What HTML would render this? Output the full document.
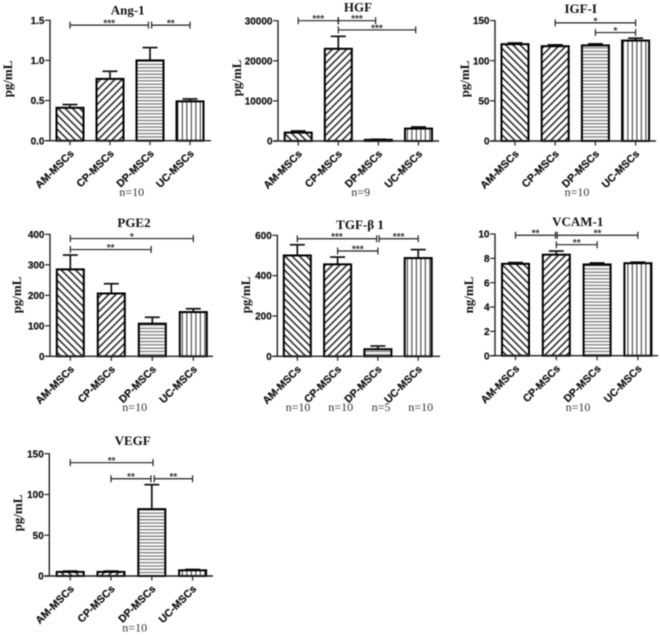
<!DOCTYPE html>
<html>
<head>
<meta charset="utf-8">
<title>MSC secreted factors</title>
<style>
html,body{margin:0;padding:0;background:#fff;width:660px;height:635px;overflow:hidden}
svg{display:block;filter:blur(0.4px)}
.tick{font:bold 10px "Liberation Sans",sans-serif;fill:#111;stroke:#111;stroke-width:.2;text-anchor:end}
.cat{font:bold 10.6px "Liberation Sans",sans-serif;fill:#111;stroke:#111;stroke-width:.2;text-anchor:end}
.title{font:bold 13px "Liberation Serif",serif;fill:#111;text-anchor:middle}
.ytitle{font:bold 13px "Liberation Serif",serif;fill:#111;text-anchor:middle}
.n{font:12px "Liberation Serif",serif;fill:#333;text-anchor:middle}
.star{font:bold 10px "Liberation Sans",sans-serif;fill:#333;text-anchor:middle}
</style>
</head>
<body>
<svg id="figure" width="660" height="635" viewBox="0 0 660 635" xmlns="http://www.w3.org/2000/svg">
<defs>
<pattern id="hatch-am" patternUnits="userSpaceOnUse" width="7.2" height="7.2"><path d="M-1,-1 L8.2,8.2 M-1,6.2 L1,8.2 M6.2,-1 L8.2,1" stroke="#111" stroke-width="1.4" fill="none"/></pattern>
<pattern id="hatch-cp" patternUnits="userSpaceOnUse" width="7.2" height="7.2"><path d="M-1,8.2 L8.2,-1 M-1,1 L1,-1 M6.2,8.2 L8.2,6.2" stroke="#111" stroke-width="1.4" fill="none"/></pattern>
<pattern id="hatch-dp" patternUnits="userSpaceOnUse" width="4" height="3.3"><rect x="0" y="1.1" width="4" height="1.1" fill="#666"/></pattern>
<pattern id="hatch-uc" patternUnits="userSpaceOnUse" width="4.5" height="4"><rect x="1.8" y="0" width="1.1" height="4" fill="#444"/></pattern>
</defs>
</svg>
<script>
var categories = ['AM-MSCs', 'CP-MSCs', 'DP-MSCs', 'UC-MSCs'];

var angMeans = [0.41, 0.77, 1.0, 0.49];
var angErrors = [0.04, 0.095, 0.16, 0.03];
var angTicks = [0, 0.5, 1.0, 1.5];
var angTickLabels = ['0.0', '0.5', '1.0', '1.5'];
var angBrackets = [[0, 1.96, 1.44, '***'], [2.04, 3, 1.44, '**']];

var hgfMeans = [2100, 23000, 300, 3100];
var hgfErrors = [400, 3100, 120, 400];
var hgfTicks = [0, 10000, 20000, 30000];
var hgfTickLabels = ['0', '10000', '20000', '30000'];
var hgfBrackets = [[0, 1, 30000, '***'], [1, 1.93, 30000, '***'], [1, 2.93, 27700, '***']];

var igfMeans = [120.5, 118, 119, 125];
var igfErrors = [1.5, 1.7, 1.9, 3];
var igfTicks = [0, 50, 100, 150];
var igfTickLabels = ['0', '50', '100', '150'];
var igfBrackets = [[1, 3, 147, '*'], [2, 3, 135, '*']];

var pgeMeans = [285, 206, 107, 145];
var pgeErrors = [47, 32, 21, 11];
var pgeTicks = [0, 100, 200, 300, 400];
var pgeTickLabels = ['0', '100', '200', '300', '400'];
var pgeBrackets = [[0, 3, 386, '*'], [0, 1.97, 350, '**']];

var tgfMeans = [500, 456, 35, 487];
var tgfErrors = [53, 36, 16, 42];
var tgfTicks = [0, 200, 400, 600];
var tgfTickLabels = ['0', '200', '400', '600'];
var tgfBrackets = [[0, 1.97, 583, '***'], [2.03, 3, 583, '***'], [1, 2, 522, '***']];

var vcamMeans = [7.55, 8.3, 7.5, 7.6];
var vcamErrors = [0.1, 0.3, 0.12, 0.08];
var vcamTicks = [0, 2, 4, 6, 8, 10];
var vcamTickLabels = ['0', '2', '4', '6', '8', '10'];
var vcamBrackets = [[0, 0.98, 9.9, '**'], [1.02, 3, 9.9, '**'], [1, 2, 9.12, '**']];

var vegfMeans = [5, 5, 82, 7];
var vegfErrors = [1, 1, 30, 1];
var vegfTicks = [0, 50, 100, 150];
var vegfTickLabels = ['0', '50', '100', '150'];
var vegfBrackets = [[0, 2.03, 139, '**'], [1, 1.98, 119.3, '**'], [2.06, 3, 119.3, '**']];

var hatchFills = ['url(#hatch-am)', 'url(#hatch-cp)', 'url(#hatch-dp)', 'url(#hatch-uc)'];

var panels = [
  {title:'Ang-1', unit:'pg/mL', means:angMeans, errors:angErrors, ticks:angTicks, labels:angTickLabels, brackets:angBrackets,
   left:50, bottom:140.7, top:20.3, first:70, step:40, right:211, tx:127.7, ty:14.5, ux:12, uy:79, notes:[['n=10',131.7,196]]},
  {title:'HGF', unit:'pg/mL', means:hgfMeans, errors:hgfErrors, ticks:hgfTicks, labels:hgfTickLabels, brackets:hgfBrackets,
   left:278, bottom:141, top:20.7, first:298.2, step:40.1, right:439, tx:358, ty:11.5, ux:241, uy:78, notes:[['n=9',360.7,196]]},
  {title:'IGF-I', unit:'pg/mL', means:igfMeans, errors:igfErrors, ticks:igfTicks, labels:igfTickLabels, brackets:igfBrackets,
   left:495, bottom:141, top:20.5, first:515, step:40.2, right:656, tx:580.7, ty:13, ux:469, uy:79, notes:[['n=10',577,196]]},
  {title:'PGE2', unit:'pg/mL', means:pgeMeans, errors:pgeErrors, ticks:pgeTicks, labels:pgeTickLabels, brackets:pgeBrackets,
   left:50, bottom:356.3, top:234.3, first:70.3, step:41, right:213, tx:134, ty:227, ux:21, uy:295, notes:[['n=10',134.7,411]]},
  {title:'TGF-\u03b2 1', unit:'pg/mL', means:tgfMeans, errors:tgfErrors, ticks:tgfTicks, labels:tgfTickLabels, brackets:tgfBrackets,
   left:277.3, bottom:356.3, top:235.3, first:297.3, step:40.3, right:440, tx:360, ty:229, ux:250, uy:295,
   notes:[['n=10',298,411],['n=10',340.7,411],['n=5',381,411],['n=10',420.7,411]]},
  {title:'VCAM-1', unit:'ng/mL', means:vcamMeans, errors:vcamErrors, ticks:vcamTicks, labels:vcamTickLabels, brackets:vcamBrackets,
   left:495, bottom:355.7, top:234, first:515.5, step:40.8, right:658, tx:577.7, ty:226, ux:473, uy:295, notes:[['n=10',578,411]]},
  {title:'VEGF', unit:'pg/mL', means:vegfMeans, errors:vegfErrors, ticks:vegfTicks, labels:vegfTickLabels, brackets:vegfBrackets,
   left:49.3, bottom:576, top:453.7, first:70.2, step:40.8, right:213, tx:132.7, ty:445, ux:22, uy:513, notes:[['n=10',134.7,631.7]]}
];

var NS = 'http://www.w3.org/2000/svg';
var figure = document.getElementById('figure');

function make(parent, tag, attrs, text) {
  var el = document.createElementNS(NS, tag);
  for (var key in attrs) {
    el.setAttribute(key, attrs[key]);
  }
  if (text !== undefined) {
    el.textContent = text;
  }
  
  parent.appendChild(el);
  return el;
}

function drawPanel(p) {
  var g = make(figure, 'g', {});
  

  var yMax = p.ticks[p.ticks.length - 1];
  function yScale(v) { return p.bottom - (v / yMax) * (p.bottom - p.top); }
  function xScale(c) { return p.first + c * p.step; }
  var barWidth = 27;

  var title = make(g, 'text', {'class':'title', x:p.tx, y:p.ty}, p.title);
  

  var unit = make(g, 'text', {'class':'ytitle', x:0, y:0, transform:'translate(' + p.ux + ' ' + p.uy + ') rotate(-90)'}, p.unit);
  

  p.means.forEach(function (mean, i) {
    var x = xScale(i);
    var top = yScale(mean);
    var errTop = yScale(mean + p.errors[i]);

    var stem = make(g, 'line', {x1:x, x2:x, y1:top, y2:errTop, stroke:'#111', 'stroke-width':1.7});
    

    var cap = make(g, 'line', {x1:x - 7.5, x2:x + 7.5, y1:errTop, y2:errTop, stroke:'#111', 'stroke-width':1.7});
    

    var bar = make(g, 'rect', {x:x - barWidth / 2, y:top, width:barWidth, height:p.bottom - top, fill:'#fff'});
    

    var hatch = make(g, 'rect', {x:x - barWidth / 2, y:top, width:barWidth, height:p.bottom - top, fill:hatchFills[i], stroke:'#000', 'stroke-width':2});
    

    var xTick = make(g, 'line', {x1:x, x2:x, y1:p.bottom, y2:p.bottom + 4.5, stroke:'#222', 'stroke-width':1.2});
    

    var label = make(g, 'text', {'class':'cat', x:0, y:0, transform:'translate(' + (x + 4.5) + ' ' + (p.bottom + 13.5) + ') rotate(-45)'}, categories[i]);
    
  });

  p.ticks.forEach(function (t, i) {
    var y = yScale(t);
    var tick = make(g, 'line', {x1:p.left - 5, x2:p.left, y1:y, y2:y, stroke:'#222', 'stroke-width':1.2});
    

    var label = make(g, 'text', {'class':'tick', x:p.left - 5.5, y:y + 3.6}, p.labels[i]);
    
  });

  var yAxis = make(g, 'line', {x1:p.left, x2:p.left, y1:p.top - 0.5, y2:p.bottom, stroke:'#222', 'stroke-width':1.4});
  

  var xAxis = make(g, 'line', {x1:p.left - 5, x2:p.right, y1:p.bottom, y2:p.bottom, stroke:'#222', 'stroke-width':1.4});
  

  p.brackets.forEach(function (b) {
    var x1 = xScale(b[0]);
    var x2 = xScale(b[1]);
    var y = yScale(b[2]);

    var line = make(g, 'path', {d:'M' + x1 + ' ' + (y - 3.5) + 'V' + (y + 3.5) + 'M' + x1 + ' ' + y + 'H' + x2 + 'M' + x2 + ' ' + (y - 3.5) + 'V' + (y + 3.5), fill:'none', stroke:'#222', 'stroke-width':1.2});
    

    var stars = make(g, 'text', {'class':'star', x:(x1 + x2) / 2, y:y + 1.5}, b[3]);
    
  });

  p.notes.forEach(function (note) {
    var n = make(g, 'text', {'class':'n', x:note[1], y:note[2]}, note[0]);
    
  });
}

panels.forEach(drawPanel);
</script>
</body>
</html>
